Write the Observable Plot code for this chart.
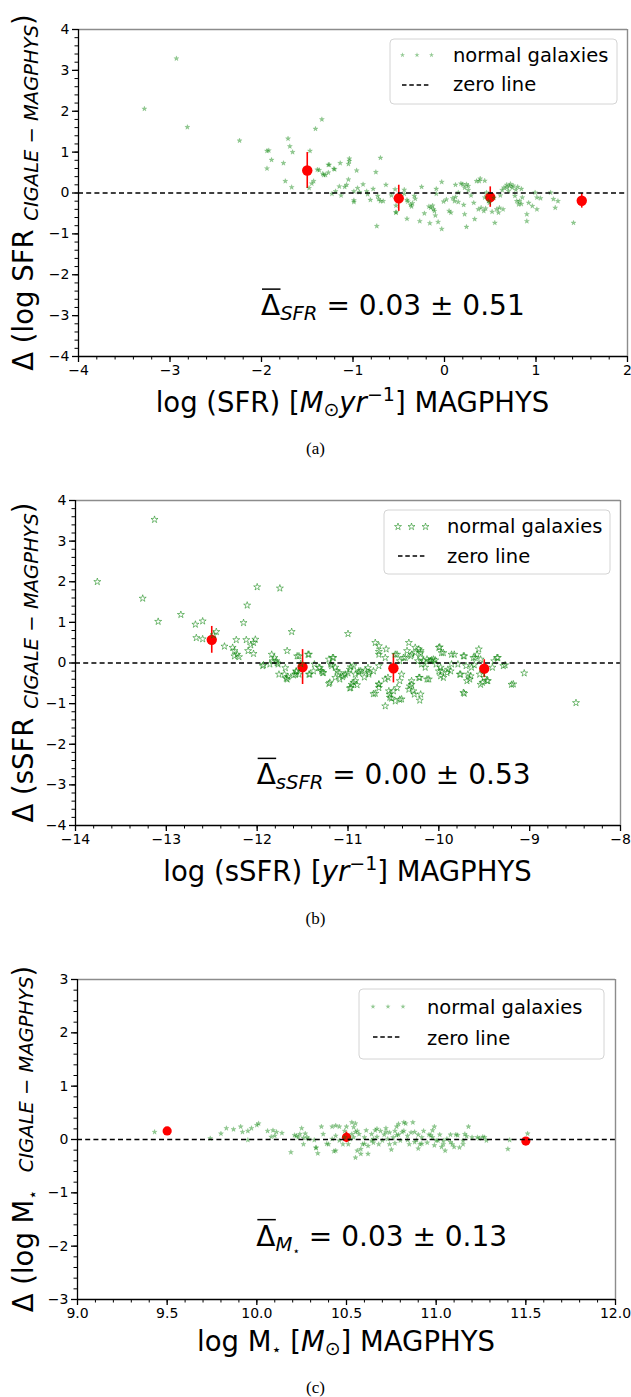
<!DOCTYPE html>
<html><head><meta charset="utf-8">
<script src="https://cdn.jsdelivr.net/npm/d3@7"></script>
<script src="https://cdn.jsdelivr.net/npm/@observablehq/plot@0.6"></script>
<style>
body{margin:0;background:#fff;}
#root{position:relative;width:631px;height:1397px;overflow:hidden;background:#fff;}
.panel{position:absolute;left:0;}
.cap{position:absolute;left:0;width:631px;text-align:center;font-family:"Liberation Serif",serif;font-size:17px;line-height:17px;}
text{white-space:pre;}
</style></head><body><div id="root"></div>
<script>
// ---------- DATA ----------
// Panel (a): Delta log SFR vs log SFR (MAGPHYS)
const sfrPoints = [[-3.28,2.06],[-2.93,3.29],[-2.81,1.61],[-2.24,1.28],[-1.94,1.03],[-1.92,1.04],[-1.89,0.81],[-1.94,0.60],[-1.76,0.73],[-1.71,1.33],[-1.69,1.14],[-1.66,1.00],[-1.74,0.29],[-1.67,0.14],[-1.47,1.03],[-1.48,0.12],[-1.45,0.23],[-1.43,0.29],[-1.41,1.57],[-1.34,1.80],[-1.37,0.56],[-1.32,0.44],[-1.30,0.44],[-1.26,0.69],[-1.27,0.50],[-1.20,0.58],[-1.14,0.73],[-1.04,0.84],[-1.04,0.78],[-0.96,0.55],[-1.05,0.33],[-1.07,0.20],[-1.15,0.16],[-1.19,0.04],[-1.23,-0.02],[-1.13,-0.06],[-0.99,-0.18],[-0.99,-0.22],[-0.93,0.02],[-0.89,0.21],[-0.85,0.04],[-0.81,-0.17],[-0.75,0.51],[-0.70,0.86],[-0.72,-0.15],[-0.70,-0.20],[-0.67,-0.20],[-0.74,-0.81],[-0.64,0.20],[-0.58,-0.06],[-0.54,0.09],[-0.53,-0.48],[-0.44,0.08],[-0.44,-0.02],[-0.41,-0.63],[-0.40,-0.21],[-0.37,-0.29],[-0.36,-0.33],[-0.32,-0.14],[-0.27,-0.69],[-0.25,0.15],[-0.22,-0.50],[-0.17,-0.33],[-0.15,-0.36],[-0.16,-0.74],[-0.11,-0.44],[-0.10,-0.55],[-0.09,0.10],[-0.09,-0.02],[-0.03,0.27],[-0.03,-0.88],[-0.01,-0.21],[0.02,-0.16],[0.05,-0.44],[0.07,-0.48],[0.09,-0.13],[0.11,-0.20],[0.12,0.20],[0.15,0.01],[0.21,-0.29],[0.22,-0.52],[0.24,-0.83],[0.20,0.21],[0.22,0.13],[0.26,0.07],[0.29,-0.06],[0.32,-0.24],[0.33,-0.64],[0.35,0.29],[0.38,0.29],[0.37,-0.40],[0.40,-0.36],[0.44,-0.11],[0.46,0.01],[0.49,-0.24],[0.52,-0.46],[0.55,-0.73],[0.57,-0.40],[0.59,-0.48],[0.61,-0.06],[0.63,0.07],[0.65,0.13],[0.68,0.13],[0.71,0.17],[0.74,0.13],[0.78,0.08],[0.77,-0.07],[0.79,-0.20],[0.81,-0.28],[0.85,-0.11],[0.90,-0.52],[0.90,-0.69],[0.92,-0.24],[0.96,-0.32],[0.99,0.01],[1.01,-0.11],[1.01,-0.40],[1.05,-0.13],[1.16,0.01],[1.19,-0.15],[1.21,-0.36],[1.24,-0.20],[1.41,-0.73],[0.39,0.35],[0.44,0.30],[0.18,0.23],[0.24,0.21],[0.26,0.17],[-0.07,-0.71],[0.68,0.20],[0.72,0.22],[0.75,0.18],[0.80,0.15],[0.84,0.10],[0.70,0.05],[0.12,-0.10],[0.15,-0.22],[0.48,-0.20],[0.54,-0.12],[0.43,-0.44],[0.45,-0.38],[0.60,-0.36],[0.64,-0.40],[0.82,-0.20],[0.84,-0.27],[-0.33,-0.07],[-0.35,-0.25],[-1.09,0.15],[-0.99,0.04],[-0.95,0.12],[-0.84,-0.03],[-0.78,0.10],[-0.73,-0.07],[-0.53,-0.31],[-0.53,-0.47],[-0.41,-0.17],[-1.39,0.57],[-1.33,0.47],[-1.27,0.69],[-1.21,0.59],[-1.05,0.71],[-0.13,-0.31],[-0.12,-0.40]];
const sfrBins = [[-1.5,0.55,0.44],[-0.5,-0.13,0.32],[0.5,-0.10,0.25],[1.5,-0.19,0.18]]; // x, mean, error
const sfrXTicks = [-4,-3,-2,-1,0,1,2];
const sfrYTicks = [-4,-3,-2,-1,0,1,2,3,4];

// Panel (b): Delta sSFR vs log sSFR (MAGPHYS)
const ssfrPoints = [[-13.76,2.00],[-13.13,3.53],[-13.26,1.59],[-13.09,1.02],[-12.84,1.19],[-12.68,0.95],[-12.60,1.03],[-12.67,0.62],[-12.60,0.59],[-12.45,0.77],[-12.48,0.69],[-12.36,0.41],[-12.27,0.38],[-12.25,0.30],[-12.22,0.21],[-12.20,0.15],[-12.25,0.17],[-12.23,0.57],[-12.15,0.99],[-12.11,1.42],[-12.12,0.57],[-12.07,0.44],[-12.04,0.50],[-12.02,0.58],[-12.10,0.30],[-12.04,0.23],[-12.00,1.87],[-11.75,1.84],[-11.84,0.21],[-11.81,0.13],[-11.79,0.05],[-11.83,0.05],[-11.93,-0.05],[-11.77,-0.03],[-11.76,-0.28],[-11.68,-0.38],[-11.66,-0.34],[-11.70,-0.28],[-11.67,0.30],[-11.62,0.77],[-11.54,0.17],[-11.52,-0.02],[-11.54,-0.28],[-11.57,-0.21],[-11.60,-0.30],[-11.43,0.21],[-11.43,-0.28],[-11.37,-0.03],[-11.32,-0.11],[-11.29,-0.20],[-11.28,-0.24],[-11.21,0.09],[-11.17,0.13],[-11.19,-0.03],[-11.14,-0.11],[-11.20,-0.48],[-11.10,-0.24],[-11.06,-0.34],[-11.09,-0.40],[-11.03,-0.28],[-11.00,0.72],[-10.98,-0.16],[-10.94,-0.07],[-10.92,-0.28],[-10.97,-0.61],[-10.94,-0.48],[-10.92,-0.44],[-10.90,-0.54],[-10.86,-0.20],[-10.81,-0.18],[-10.77,-0.28],[-10.70,0.50],[-10.66,0.28],[-10.66,0.21],[-10.66,0.42],[-10.70,-0.75],[-10.66,-0.52],[-10.66,-0.61],[-10.66,-0.07],[-10.59,-1.06],[-10.58,0.34],[-10.59,0.13],[-10.56,-0.36],[-10.54,-0.77],[-10.52,-0.87],[-10.50,-0.69],[-10.48,-0.94],[-10.46,-0.61],[-10.43,-0.44],[-10.41,-0.89],[-10.46,0.21],[-10.43,0.05],[-10.41,-0.28],[-10.37,0.13],[-10.35,0.30],[-10.33,0.50],[-10.30,-0.44],[-10.32,-0.57],[-10.28,-0.69],[-10.27,-0.77],[-10.21,-0.92],[-10.30,0.21],[-10.26,0.38],[-10.22,0.34],[-10.20,0.25],[-10.23,0.05],[-10.19,-0.03],[-10.17,0.05],[-10.15,-0.11],[-10.11,0.05],[-10.21,-0.36],[-10.11,-0.40],[-10.08,0.07],[-10.04,0.07],[-10.03,-0.03],[-9.99,0.39],[-9.95,0.25],[-9.98,-0.11],[-9.97,-0.20],[-9.95,-0.36],[-9.90,-0.16],[-9.87,-0.20],[-9.86,-0.03],[-9.83,0.21],[-9.79,-0.03],[-9.77,-0.28],[-9.72,0.17],[-9.70,-0.07],[-9.72,-0.75],[-9.68,-0.28],[-9.66,-0.40],[-9.64,-0.11],[-9.60,0.13],[-9.61,-0.05],[-9.56,0.34],[-9.55,-0.28],[-9.52,-0.48],[-9.50,-0.36],[-9.46,-0.44],[-9.41,-0.11],[-9.39,0.05],[-9.35,0.13],[-9.27,-0.05],[-9.18,-0.52],[-9.06,-0.25],[-8.49,-0.98],[-11.56,0.17],[-11.44,0.21],[-11.94,-0.07],[-11.86,-0.03],[-11.78,0.00],[-11.69,-0.12],[-11.67,-0.40],[-11.58,-0.28],[-11.57,-0.20],[-11.42,-0.28],[-11.38,-0.20],[-11.31,-0.12],[-11.27,-0.24],[-11.18,-0.07],[-11.16,0.13],[-11.21,-0.51],[-11.12,-0.20],[-11.05,-0.30],[-11.00,-0.25],[-10.97,-0.10],[-10.88,-0.20],[-10.82,-0.35],[-10.78,-0.12],[-10.72,-0.20],[-10.48,0.21],[-10.39,0.13],[-10.31,0.17],[-10.26,0.25],[-10.20,0.30],[-10.20,0.13],[-10.13,0.09],[-10.09,0.05],[-10.06,0.09],[-10.00,0.38],[-9.97,0.25],[-9.86,0.21],[-9.73,0.17],[-9.62,0.13],[-9.58,0.21],[-9.54,0.09],[-9.36,0.13],[-9.29,-0.07],[-11.14,-0.36],[-10.96,-0.53],[-10.98,-0.62],[-10.88,-0.24],[-10.77,-0.24],[-10.72,-0.76],[-10.66,-0.53],[-10.59,-0.40],[-10.55,-0.69],[-10.54,-0.85],[-10.43,-0.90],[-10.33,-0.65],[-10.30,-0.53],[-10.22,-0.36],[-10.20,-0.77],[-10.13,-0.40],[-10.00,-0.20],[-9.98,-0.32],[-9.91,-0.24],[-9.76,-0.28],[-9.73,-0.73],[-9.69,-0.44],[-9.65,-0.32],[-9.54,-0.53],[-9.47,-0.44],[-9.20,-0.53]];
const ssfrBins = [[-12.5,0.57,0.33],[-11.5,-0.10,0.43],[-10.5,-0.13,0.36],[-9.5,-0.14,0.22]];
const ssfrXTicks = [-14,-13,-12,-11,-10,-9,-8];
const ssfrYTicks = [-4,-3,-2,-1,0,1,2,3,4];

// Panel (c): Delta log M* vs log M* (MAGPHYS)
const massPoints = [[9.43,0.14],[9.74,0.02],[9.80,0.11],[9.83,0.21],[9.87,0.19],[9.91,0.24],[9.92,0.14],[9.95,0.16],[9.97,0.21],[10.00,0.27],[10.01,0.30],[9.95,-0.01],[10.06,0.16],[10.09,0.17],[10.11,0.14],[10.08,0.05],[10.10,0.07],[10.14,0.12],[10.19,-0.24],[10.22,0.07],[10.23,0.04],[10.25,0.21],[10.24,0.10],[10.27,0.11],[10.28,0.04],[10.26,-0.09],[10.29,0.01],[10.32,-0.01],[10.33,-0.15],[10.34,-0.26],[10.36,0.24],[10.37,0.10],[10.40,-0.09],[10.42,0.01],[10.44,0.07],[10.44,0.26],[10.46,0.24],[10.44,-0.21],[10.46,-0.02],[10.48,-0.09],[10.49,0.16],[10.50,0.24],[10.51,-0.09],[10.52,0.01],[10.53,0.10],[10.54,0.04],[10.55,0.30],[10.56,0.16],[10.57,0.10],[10.55,-0.34],[10.58,-0.18],[10.59,-0.09],[10.60,0.04],[10.61,0.17],[10.62,-0.27],[10.62,-0.12],[10.64,0.10],[10.65,0.01],[10.65,-0.06],[10.66,0.17],[10.67,0.05],[10.68,-0.09],[10.69,0.16],[10.70,-0.02],[10.71,0.09],[10.72,0.21],[10.73,0.01],[10.74,0.13],[10.74,-0.09],[10.75,-0.19],[10.76,0.04],[10.77,0.16],[10.77,-0.07],[10.78,0.24],[10.79,0.09],[10.80,-0.02],[10.82,0.16],[10.83,0.30],[10.84,0.07],[10.85,-0.09],[10.86,0.13],[10.87,0.32],[10.89,-0.01],[10.90,0.09],[10.91,-0.09],[10.92,0.04],[10.93,0.16],[10.95,-0.06],[10.96,0.09],[10.98,0.04],[10.99,0.24],[11.00,-0.02],[11.02,0.09],[11.04,-0.09],[11.05,-0.21],[11.06,0.01],[11.08,0.09],[11.09,-0.09],[11.11,0.09],[11.13,-0.15],[11.15,-0.09],[11.16,0.10],[11.18,0.24],[11.20,0.04],[11.24,0.02],[11.26,0.05],[11.28,-0.02],[11.40,-0.18],[11.51,0.11],[10.84,-0.01],[10.88,-0.05],[10.90,-0.17],[10.92,-0.08],[10.99,-0.11],[11.01,-0.02],[11.03,-0.14],[11.04,-0.02],[11.08,-0.05],[11.10,-0.14],[11.12,0.08],[11.15,-0.02],[11.17,0.06],[11.23,0.04],[11.27,0.04],[11.41,-0.01],[10.81,0.14],[10.88,0.14],[10.97,0.08],[10.98,0.17],[10.53,0.32],[10.54,0.23],[10.55,0.14],[10.56,-0.21],[10.58,-0.27],[10.60,-0.08],[10.64,-0.02],[10.67,0.20],[10.72,0.14],[10.78,0.08],[10.79,0.29],[10.82,0.32],[10.21,0.08],[10.26,0.03],[10.33,-0.16],[10.39,-0.08],[10.42,0.24],[10.43,-0.22],[10.49,0.04]];
const massBins = [[9.5,0.16,0.03],[10.5,0.04,0.10],[11.5,-0.03,0.05]];
const massXTicks = [9.0,9.5,10.0,10.5,11.0,11.5,12.0];
const massYTicks = [-3,-2,-1,0,1,2,3];

const legendLabels = ["normal galaxies","zero line"];
const captions = ["(a)","(b)","(c)"];

// ---------- HELPERS ----------
const FONT = "DejaVu Sans";
const minus = d => (d < 0 ? "\u2212" : "") + Math.abs(d);

function rich(sel, parts, fs0, anchor) {
  const t = sel.append("text").attr("font-family", FONT).attr("fill", "black")
    .attr("font-size", fs0).attr("text-anchor", anchor || "start");
  let prev = 0;
  parts.forEach(p => {
    const s = t.append("tspan").text(p.t).attr("font-size", p.fs || fs0);
    if (p.it) s.attr("font-style", "italic");
    const sh = p.sh || 0;
    if (sh !== prev) s.attr("dy", sh - prev);
    prev = sh;
  });
  return t;
}

const root = document.getElementById("root");

function panel(c) {
  const pts = c.points.map(([x, y]) => ({x, y}));
  const bins = c.bins.map(([x, y, e]) => ({x, y, e}));
  const starMark = c.hollow
    ? Plot.dot(pts, {x: "x", y: "y", symbol: "star", r: 2.2, fill: "none", stroke: "green", strokeOpacity: 0.5, strokeWidth: 1})
    : Plot.dot(pts, {x: "x", y: "y", symbol: "star", r: 1.6, fill: "green", fillOpacity: 0.42, stroke: "green", strokeOpacity: 0.25, strokeWidth: 0.6});
  const plot = Plot.plot({
    width: 631, height: c.height,
    marginTop: c.mt, marginBottom: c.mb, marginLeft: c.ml, marginRight: c.mr,
    style: {fontFamily: FONT, fontSize: "14px", background: "white", color: "black"},
    x: {domain: c.xDomain, label: null},
    y: {domain: c.yDomain, label: null},
    marks: [
      Plot.ruleX(bins, {x: "x", y1: d => d.y - d.e, y2: d => d.y + d.e, stroke: "red", strokeWidth: 1.6}),
      Plot.dot(bins, {x: "x", y: "y", r: c.redR, fill: "red"}),
      starMark,
      Plot.ruleY([0], {stroke: "black", strokeWidth: 1.3, strokeDasharray: "5,3.2"}),
      Plot.ruleY([c.yDomain[1]], {stroke: "#8c8c8c", strokeWidth: 1.4}),
      Plot.ruleX([c.xDomain[1]], {stroke: "#8c8c8c", strokeWidth: 1.4}),
      Plot.ruleX([c.xDomain[0]], {stroke: "black", strokeWidth: 1.3}),
      Plot.ruleY([c.yDomain[0]], {stroke: "black", strokeWidth: 1.3}),
      Plot.axisX({ticks: c.xTicks, tickSize: 6, tickPadding: 3, tickFormat: c.xFmt, fontSize: 14, strokeWidth: 1.3, label: null}),
      Plot.axisX({ticks: c.xMinor, tickSize: 3.5, tickFormat: () => "", strokeWidth: 1, label: null}),
      Plot.axisY({ticks: c.yTicks, tickSize: 6, tickPadding: 3, tickFormat: minus, fontSize: 14, strokeWidth: 1.3, label: null}),
      Plot.axisY({ticks: c.yMinor, tickSize: 3.5, tickFormat: () => "", strokeWidth: 1, label: null})
    ]
  });
  plot.classList.add("panel");
  plot.style.top = c.top + "px";
  root.appendChild(plot);

  const svg = d3.select(plot);
  const sx = plot.scale("x"), sy = plot.scale("y");
  const yc = (c.mt + (c.height - c.mb)) / 2;
  const xc = (c.ml + (631 - c.mr)) / 2;

  // y label (rotated)
  rich(svg, c.yLabel, 27.5, "middle")
    .attr("transform", `translate(${c.yLabX},${yc}) rotate(-90)`);
  // x label
  rich(svg, c.xLabel, 27.5, "middle")
    .attr("x", xc).attr("y", c.xLabY);

  // annotation
  const ax = sx.apply(c.anno.x), ay = sy.apply(c.anno.y);
  rich(svg, c.anno.parts, 28, "start").attr("x", ax).attr("y", ay);
  svg.append("line").attr("x1", ax + 1).attr("x2", ax + 19.5)
    .attr("y1", ay - 26).attr("y2", ay - 26).attr("stroke", "black").attr("stroke-width", 1.5);

  // legend
  const L = c.legend, g = svg.append("g");
  g.append("rect").attr("x", L.x).attr("y", L.y).attr("width", L.w).attr("height", L.h)
    .attr("rx", 4).attr("fill", "white").attr("fill-opacity", 0.8).attr("stroke", "#d4d4d4").attr("stroke-width", 1);
  const sym = d3.symbol(d3.symbolStar, c.hollow ? 2.2 * 2.2 * Math.PI : 1.6 * 1.6 * Math.PI);
  L.mx.forEach(mx => {
    const p = g.append("path").attr("d", sym()).attr("transform", `translate(${mx},${L.my})`);
    if (c.hollow) p.attr("fill", "none").attr("stroke", "green").attr("stroke-opacity", 0.5).attr("stroke-width", 1);
    else p.attr("fill", "green").attr("fill-opacity", 0.42);
  });
  g.append("line").attr("x1", L.dx[0]).attr("x2", L.dx[1]).attr("y1", L.dy).attr("y2", L.dy)
    .attr("stroke", "black").attr("stroke-width", 1.5).attr("stroke-dasharray", "4.5,2.8");
  L.ty.forEach((ty, i) => g.append("text").attr("x", L.tx).attr("y", ty).attr("font-family", FONT)
    .attr("text-anchor", "start").attr("font-size", 19.5).text(legendLabels[i]));
}

const minorTicks = (a, b, s) => d3.range(Math.round((b - a) / s) + 1).map(i => +(a + i * s).toFixed(3));
const sub = "CIGALE \u2212 MAGPHYS";

panel({
  top: 0, height: 460, mt: 29, mb: 104, ml: 78, mr: 4,
  xDomain: [-4, 2], yDomain: [-4, 4],
  xTicks: sfrXTicks, yTicks: sfrYTicks, xMinor: minorTicks(-4, 2, 0.2), yMinor: minorTicks(-4, 4, 0.2),
  xFmt: minus, points: sfrPoints, bins: sfrBins, redR: 5.2, hollow: false,
  yLabX: 33,
  yLabel: [{t: "\u0394 (log SFR "}, {t: sub, it: true, fs: 19.5, sh: 5}, {t: ")", sh: 0}],
  xLabY: 412,
  xLabel: [{t: "log (SFR) ["}, {t: "M", it: true}, {t: "\u2299", fs: 19, sh: 4}, {t: "yr", it: true, sh: 0}, {t: "\u22121", fs: 19, sh: -11}, {t: "] MAGPHYS", sh: 0}],
  anno: {x: -2, y: -3, parts: [{t: "\u0394"}, {t: "SFR", it: true, fs: 19.6, sh: 5}, {t: " = 0.03 \u00b1 0.51", sh: 0}]},
  legend: {x: 390, y: 39, w: 227, h: 65, mx: [402.5, 417, 431.5], my: 55, dx: [402, 431], dy: 85, tx: 453, ty: [62, 91]}
});

panel({
  top: 460, height: 470, mt: 40, mb: 105, ml: 75, mr: 11,
  xDomain: [-14, -8], yDomain: [-4, 4],
  xTicks: ssfrXTicks, yTicks: ssfrYTicks, xMinor: minorTicks(-14, -8, 0.2), yMinor: minorTicks(-4, 4, 0.2),
  xFmt: minus, points: ssfrPoints, bins: ssfrBins, redR: 5.2, hollow: true,
  yLabX: 33,
  yLabel: [{t: "\u0394 (sSFR "}, {t: sub, it: true, fs: 19.5, sh: 5}, {t: ")", sh: 0}],
  xLabY: 421,
  xLabel: [{t: "log (sSFR) ["}, {t: "yr", it: true}, {t: "\u22121", fs: 19, sh: -11}, {t: "] MAGPHYS", sh: 0}],
  anno: {x: -12, y: -3, parts: [{t: "\u0394"}, {t: "sSFR", it: true, fs: 19.6, sh: 5}, {t: " = 0.00 \u00b1 0.53", sh: 0}]},
  legend: {x: 384, y: 50, w: 226, h: 64, mx: [398, 411.5, 425.5], my: 66.7, dx: [398, 426], dy: 96, tx: 447, ty: [73.3, 103.3]}
});

panel({
  top: 930, height: 467, mt: 49, mb: 98, ml: 77, mr: 16,
  xDomain: [9, 12], yDomain: [-3, 3],
  xTicks: massXTicks, yTicks: massYTicks, xMinor: minorTicks(9, 12, 0.1), yMinor: minorTicks(-3, 3, 0.2),
  xFmt: d => d.toFixed(1), points: massPoints, bins: massBins, redR: 4.6, hollow: false,
  yLabX: 33,
  yLabel: [{t: "\u0394 (log M"}, {t: "\u22c6", fs: 16, sh: 5}, {t: "  "}, {t: sub, it: true, fs: 19.5}, {t: ")", sh: 0}],
  xLabY: 421,
  xLabel: [{t: "log M"}, {t: "\u22c6", fs: 16, sh: 4}, {t: " [", sh: 0}, {t: "M", it: true}, {t: "\u2299", fs: 19, sh: 4}, {t: "] MAGPHYS", sh: 0}],
  anno: {x: 10, y: -2, parts: [{t: "\u0394"}, {t: "M", it: true, fs: 19.6, sh: 5}, {t: "\u22c6", fs: 12, sh: 9}, {t: " = 0.03 \u00b1 0.13", sh: 0}]},
  legend: {x: 359, y: 59, w: 245, h: 70, mx: [373, 388, 403], my: 76.7, dx: [373, 401], dy: 107, tx: 427, ty: [84, 115]}
});

// captions
[[captions[0], 440], [captions[1], 910], [captions[2], 1379]].forEach(([t, y]) => {
  const d = document.createElement("div");
  d.className = "cap"; d.style.top = y + "px"; d.textContent = t;
  root.appendChild(d);
});
</script>
</body></html>
